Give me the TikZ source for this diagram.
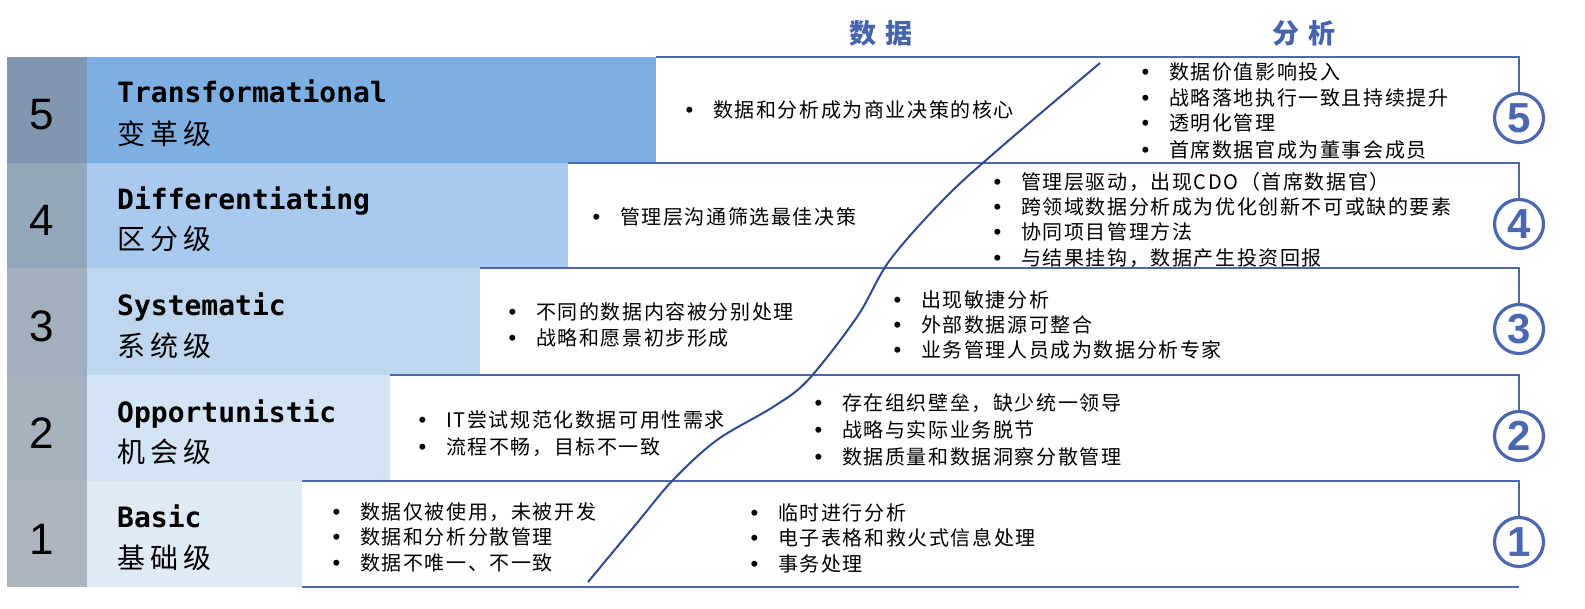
\documentclass[tikz,border=0pt]{standalone}
\usepackage{fontspec}
\setmainfont{Liberation Sans}
\newfontfamily\cjk[LetterSpace=8]{Noto Sans CJK SC}
\newfontfamily\cjklab[LetterSpace=18]{Noto Sans CJK SC}
\newfontfamily\cjkhead[LetterSpace=37]{Noto Sans CJK SC}
\newfontfamily\monob{DejaVu Sans Mono}
\newfontfamily\bulfont{Liberation Sans}
\definecolor{g5}{HTML}{8097AF}
\definecolor{g4}{HTML}{94A8BC}
\definecolor{g3}{HTML}{A2AFBC}
\definecolor{g2}{HTML}{A8B2BE}
\definecolor{g1}{HTML}{AEB5BF}
\definecolor{b5}{HTML}{7EAFE3}
\definecolor{b4}{HTML}{A9CAEE}
\definecolor{b3}{HTML}{BED7EE}
\definecolor{b2}{HTML}{D3E4F5}
\definecolor{b1}{HTML}{DFEAF5}
\definecolor{framec}{HTML}{4A67B0}
\definecolor{curvec}{HTML}{2F4B8B}
\definecolor{headc}{HTML}{4664AA}
\newcommand\bul{\llap{{\bulfont\fontsize{22}{22}\selectfont •}\hspace{20pt}}}
\begin{document}
\begin{tikzpicture}[x=1pt,y=-1pt,
  num/.style={anchor=base, font=\fontsize{44}{44}\selectfont, text=black, inner sep=0},
  en/.style={anchor=base west, font=\monob\bfseries\fontsize{28}{28}\selectfont, inner sep=0},
  zh/.style={anchor=base west, font=\cjklab\fontsize{28}{28}\selectfont, inner sep=0},
  item/.style={anchor=base west, font=\cjk\fontsize{20}{20}\selectfont, inner sep=0},
  head/.style={anchor=base, font=\cjkhead\bfseries\fontsize{27}{27}\selectfont, text=headc, inner sep=0},
  rim/.style={draw=framec, line width=1.4pt},
  badge/.style={circle, draw=framec, line width=3.2pt, minimum size=49pt, inner sep=0, text=framec, font=\bfseries\fontsize{42}{42}\selectfont},
]
\useasboundingbox (0,0) rectangle (1585,609);
\fill[white] (0,0) rectangle (1585,609);
% gray number column
\fill[g5] (7,57) rectangle (87,163);
\fill[g4] (7,163) rectangle (87,268);
\fill[g3] (7,268) rectangle (87,375);
\fill[g2] (7,375) rectangle (87,481);
\fill[g1] (7,481) rectangle (87,587);
% blue label cells
\fill[b5] (87,57) rectangle (656,163);
\fill[b4] (87,163) rectangle (568,268);
\fill[b3] (87,268) rectangle (480,375);
\fill[b2] (87,375) rectangle (390,481);
\fill[b1] (87,481) rectangle (302,587);
% coordinates of frames
\coordinate (t5a) at (656,57);  \coordinate (t5b) at (1519,57);
\coordinate (t4a) at (568,163); \coordinate (t4b) at (1519,163);
\coordinate (t3a) at (480,268); \coordinate (t3b) at (1519,268);
\coordinate (t2a) at (390,375); \coordinate (t2b) at (1519,375);
\coordinate (t1a) at (302,481); \coordinate (t1b) at (1519,481);
\coordinate (bba) at (302,587); \coordinate (bbb) at (1519,587);
% badges
\node[badge] (c5) at (1519,118) {5};
\node[badge] (c4) at (1519,224) {4};
\node[badge] (c3) at (1519,329) {3};
\node[badge] (c2) at (1519,436) {2};
\node[badge] (c1) at (1519,542) {1};
% frame lines
\draw[rim] (t5a) -- (t5b) -- (c5.north);
\draw[rim] (t4a) -- (t4b) -- (c4.north);
\draw[rim] (t3a) -- (t3b) -- (c3.north);
\draw[rim] (t2a) -- (t2b) -- (c2.north);
\draw[rim] (t1a) -- (t1b) -- (c1.north);
\draw[rim] (bba) -- (bbb);
% curve
\draw[curvec, line width=2pt] plot[smooth, tension=0.55] coordinates {(588,582) (637,523) (673,480) (717,440) (773,407) (808,380) (857,317) (890,260) (945,198) (1000,148) (1100,63)};
% headers
\node[head] (hd) at (881,44) {数据};
\node[head] (ha) at (1304,44) {分析};
% numbers
\node[num] (n5) at (42,130) {5};
\node[num] (n4) at (42,236) {4};
\node[num] (n3) at (42,342) {3};
\node[num] (n2) at (42,448) {2};
\node[num] (n1) at (42,554) {1};
% labels
\node[en] (e5) at (117,103) {Transformational};
\node[zh] (z5) at (117,145) {变革级};
\node[en] (e4) at (117,210) {Differentiating};
\node[zh] (z4) at (117,250) {区分级};
\node[en] (e3) at (117,316) {Systematic};
\node[zh] (z3) at (117,357) {系统级};
\node[en] (e2) at (117,422) {Opportunistic};
\node[zh] (z2) at (117,462) {机会级};
\node[en] (e1) at (117,527) {Basic};
\node[zh] (z1) at (117,568) {基础级};
% row 5
\node[item] (d51) at (713,117.6) {\bul 数据和分析成为商业决策的核心};
\node[item] (a51) at (1169,79.6) {\bul 数据价值影响投入};
\node[item] (a52) at (1169,105.6) {\bul 战略落地执行一致且持续提升};
\node[item] (a53) at (1169,130.6) {\bul 透明化管理};
\node[item] (a54) at (1169,157.6) {\bul 首席数据官成为董事会成员};
% row 4
\node[item] (d41) at (620,224.6) {\bul 管理层沟通筛选最佳决策};
\node[item] (a41) at (1021,189.6) {\bul 管理层驱动，出现CDO（首席数据官）};
\node[item] (a42) at (1021,214.6) {\bul 跨领域数据分析成为优化创新不可或缺的要素};
\node[item] (a43) at (1021,239.6) {\bul 协同项目管理方法};
\node[item] (a44) at (1021,265.6) {\bul 与结果挂钩，数据产生投资回报};
% row 3
\node[item] (d31) at (536,319.6) {\bul 不同的数据内容被分别处理};
\node[item] (d32) at (536,345.6) {\bul 战略和愿景初步形成};
\node[item] (a31) at (921,307.6) {\bul 出现敏捷分析};
\node[item] (a32) at (921,332.6) {\bul 外部数据源可整合};
\node[item] (a33) at (921,357.6) {\bul 业务管理人员成为数据分析专家};
% row 2
\node[item] (d21) at (446,427.6) {\bul IT尝试规范化数据可用性需求};
\node[item] (d22) at (446,454.6) {\bul 流程不畅，目标不一致};
\node[item] (a21) at (842,410.6) {\bul 存在组织壁垒，缺少统一领导};
\node[item] (a22) at (842,437.6) {\bul 战略与实际业务脱节};
\node[item] (a23) at (842,464.6) {\bul 数据质量和数据洞察分散管理};
% row 1
\node[item] (d11) at (360,519.6) {\bul 数据仅被使用，未被开发};
\node[item] (d12) at (360,544.6) {\bul 数据和分析分散管理};
\node[item] (d13) at (360,570.6) {\bul 数据不唯一、不一致};
\node[item] (a11) at (778,520.6) {\bul 临时进行分析};
\node[item] (a12) at (778,545.6) {\bul 电子表格和救火式信息处理};
\node[item] (a13) at (778,571.6) {\bul 事务处理};
\end{tikzpicture}
\end{document}
